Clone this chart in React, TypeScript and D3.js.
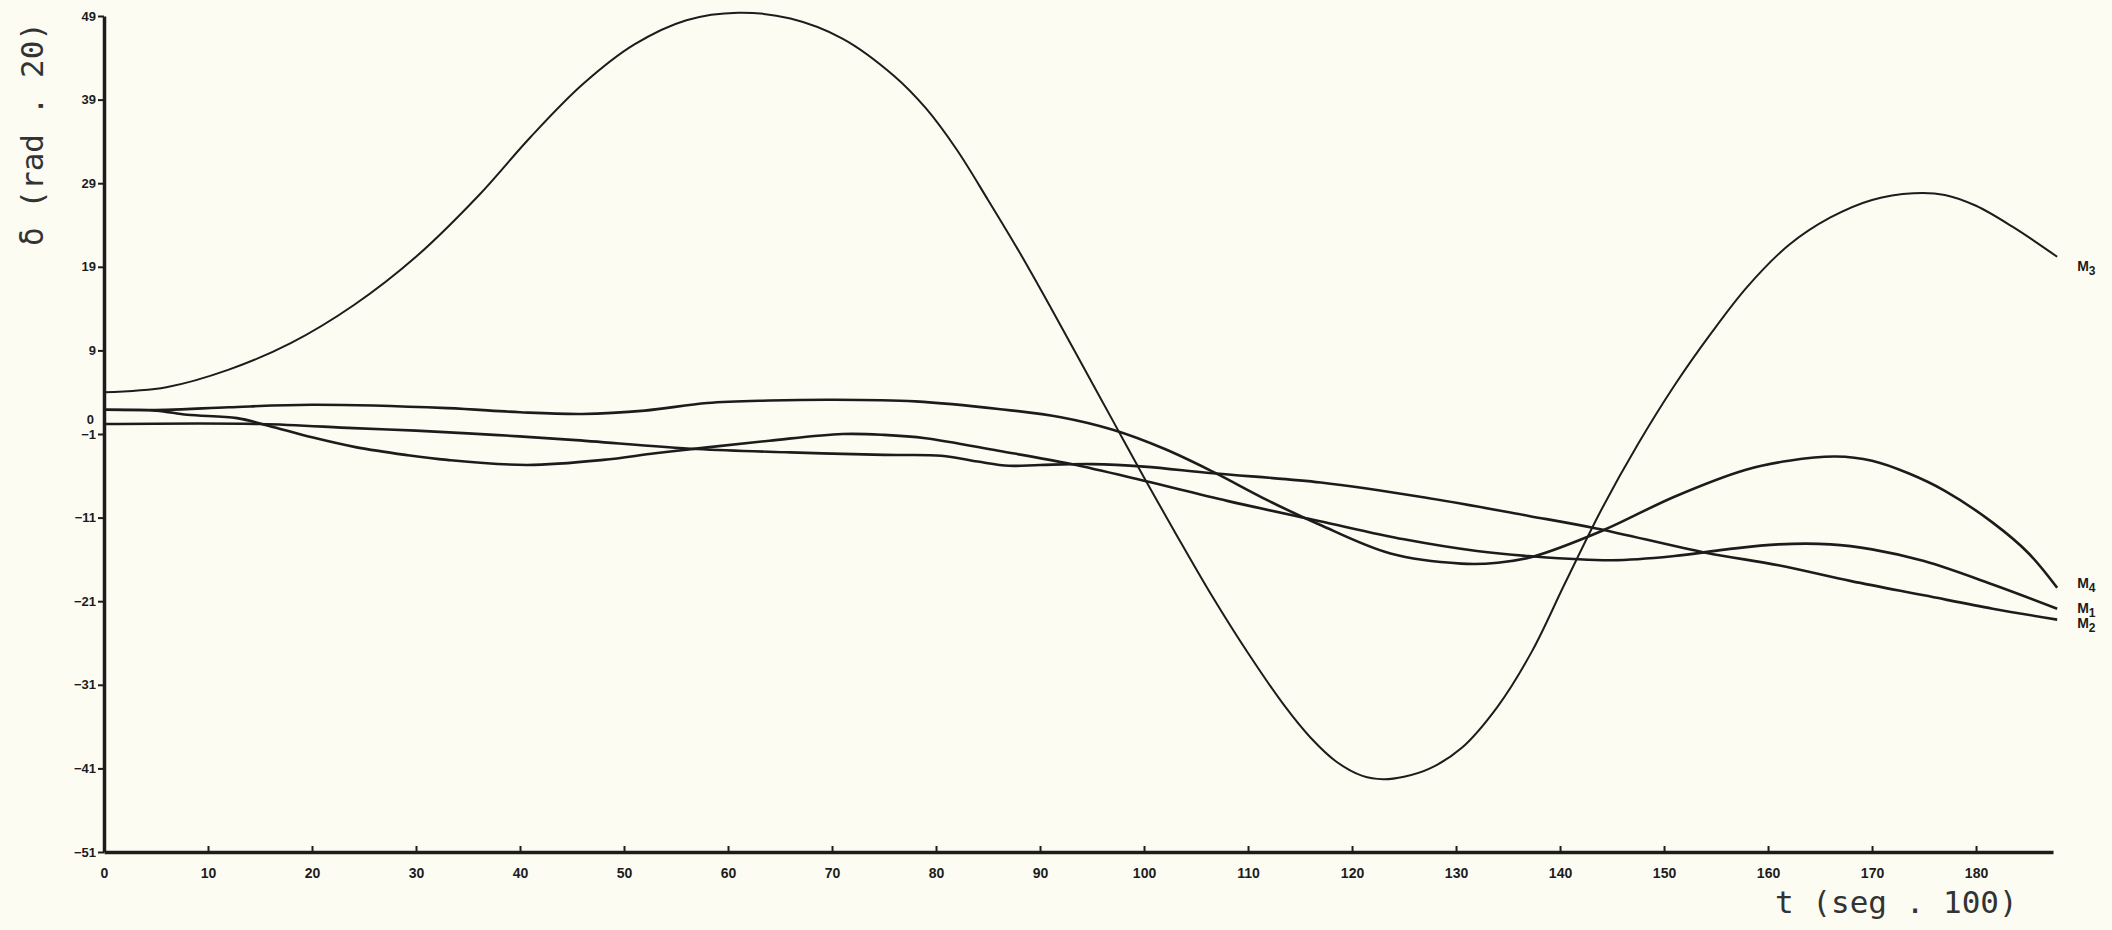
import * as d3 from 'd3';
import { FC, useEffect, useRef } from 'react';

// t (seg . 100) vs delta (rad . 20)
const m3: [number, number][] = [
  [0, 4.0], [6, 4.6], [12, 6.7], [18, 9.9], [24, 14.4], [30, 20.2], [36, 27.5],
  [41, 34.5], [46, 40.8], [51, 45.6], [56, 48.5], [61, 49.4], [66, 48.7],
  [71, 46.3], [76, 41.8], [79, 38], [82, 33], [85, 27], [88, 20.8], [91, 14.2],
  [94, 7.4], [97, 0.6], [100, -6.2], [103, -12.8], [106.6, -20.5], [110, -27.2],
  [113.5, -33.5], [116, -37.3], [118.5, -40.2], [121, -41.9], [123, -42.3],
  [125, -42.0], [127.5, -41.0], [130.5, -38.6], [134, -33.6], [137.3, -27],
  [140.5, -18.8], [144, -10], [147.5, -2.2], [151, 4.8], [154.5, 11],
  [158, 16.6], [162, 21.6], [166, 24.9], [170, 27], [174, 27.8], [177, 27.6],
  [180, 26.3], [183.5, 23.8], [187.8, 20.2],
];

const m4: [number, number][] = [
  [0, 1.9], [6, 1.9], [12, 2.2], [20, 2.5], [33, 2.1], [40, 1.6], [46, 1.4],
  [52, 1.8], [58, 2.7], [64, 3.0], [70, 3.1], [78, 2.9], [86, 2.0], [92, 1.0],
  [97, -0.5], [102, -2.8], [106.6, -5.5], [112, -9], [116.8, -11.8],
  [123.7, -15.3], [130.5, -16.5], [134, -16.4], [137.3, -15.7], [144, -12.6],
  [151, -8.5], [157.8, -5.3], [162, -4.2], [166.5, -3.7], [170, -4.2],
  [173.5, -5.7], [177, -7.8], [181.6, -11.6], [185, -15.2], [187.8, -19.4],
];

const m1: [number, number][] = [
  [0, 1.9], [5, 1.8], [8, 1.3], [12.8, 0.9], [15.8, 0], [20, -1.4],
  [24.3, -2.6], [29, -3.5], [33, -4.1], [40.7, -4.7], [48, -4.1], [53, -3.3],
  [58, -2.6], [64, -1.8], [71, -1.0], [75, -1.1], [79, -1.5], [86, -3.0],
  [93, -4.6], [100, -6.6], [108, -9], [116.8, -11.4], [125, -13.6], [132, -15],
  [137, -15.6], [145, -16.1], [151, -15.6], [156, -14.8], [161, -14.2],
  [166, -14.2], [170, -14.8], [175, -16.2], [181.6, -19], [187.8, -21.9],
];

const m2: [number, number][] = [
  [0, 0.2], [15, 0.2], [24, -0.3], [30, -0.6], [37.5, -1.1], [45, -1.7],
  [57, -2.8], [66, -3.2], [75, -3.5], [80.5, -3.6], [84, -4.3], [87, -4.8],
  [90, -4.7], [95, -4.6], [100, -4.9], [106.6, -5.7], [117, -6.8],
  [127, -8.6], [137, -10.8], [143.5, -12.3], [154, -15.2], [161, -16.7],
  [168, -18.6], [175, -20.3], [181.6, -21.9], [187.8, -23.2],
];

const seriesNames = ['M3', 'M4', 'M1', 'M2'];
const seriesValues = [m3, m4, m1, m2];

const xTicks = d3.range(0, 190, 10);
const yTicks = [49, 39, 29, 19, 9, -1, -11, -21, -31, -41, -51];

const W = 2112;
const H = 930;

const App: FC = () => {
  const ref = useRef<SVGSVGElement>(null);

  useEffect(() => {
    drawChart();
  }, []);

  const drawChart = () => {
    const svg = d3.select(ref.current);
    svg.selectAll('*').remove();

    svg
      .append('rect')
      .attr('width', W)
      .attr('height', H)
      .attr('fill', '#fcfcf3');

    const x = d3.scaleLinear().domain([0, 187.4]).range([104, 2053]);
    const y = d3.scaleLinear().domain([-51, 49]).range([852, 16]);

    const ink = '#1c1c1c';

    // x axis, ticks pointing up into the plot
    const xAxis = svg
      .append('g')
      .attr('transform', `translate(0,${y(-51)})`)
      .call(
        d3
          .axisBottom(x)
          .tickValues(xTicks)
          .tickSizeInner(-6)
          .tickSizeOuter(0)
          .tickPadding(16)
          .tickFormat(d3.format('d'))
      );
    xAxis.select('.domain').style('stroke', ink).style('stroke-width', 3.5);
    xAxis.selectAll('line').style('stroke', ink).style('stroke-width', 2);
    xAxis
      .selectAll('text')
      .style('font-family', 'Liberation Sans, sans-serif')
      .style('font-size', '14px')
      .style('font-weight', 'bold')
      .style('fill', ink);

    const yAxis = svg
      .append('g')
      .attr('transform', `translate(${x(0)},0)`)
      .call(
        d3
          .axisLeft(y)
          .tickValues(yTicks)
          .tickSizeInner(6)
          .tickSizeOuter(0)
          .tickPadding(2)
          .tickFormat(d3.format('d'))
      );
    yAxis.select('.domain').style('stroke', ink).style('stroke-width', 3.5);
    yAxis.selectAll('line').style('stroke', ink).style('stroke-width', 2);
    yAxis
      .selectAll('text')
      .style('font-family', 'Liberation Sans, sans-serif')
      .style('font-size', '13px')
      .style('font-weight', 'bold')
      .style('fill', ink);

    // extra "0" label written next to the -1 tick
    svg
      .append('text')
      .attr('x', x(0) - 10)
      .attr('y', y(0) - 2)
      .attr('text-anchor', 'end')
      .style('font-family', 'Liberation Sans, sans-serif')
      .style('font-size', '13px')
      .style('font-weight', 'bold')
      .style('fill', ink)
      .text('0');

    const line = d3
      .line<[number, number]>()
      .x((d) => x(d[0]))
      .y((d) => y(d[1]))
      .curve(d3.curveCatmullRom.alpha(0.5));

    svg
      .selectAll('.curve')
      .data(seriesValues)
      .enter()
      .append('path')
      .attr('class', 'curve')
      .attr('d', (d) => line(d))
      .attr('fill', 'none')
      .attr('stroke', ink)
      .attr('stroke-width', (d, i) => (i === 0 ? 2 : 2.6));

    // end labels M3, M4, M1, M2
    const labelDy = [10, -4, 0, 4];
    const labels = svg
      .selectAll('.mlabel')
      .data(seriesValues)
      .enter()
      .append('text')
      .attr('class', 'mlabel')
      .attr('x', (d) => x(d[d.length - 1][0]) + 20)
      .attr('y', (d, i) => y(d[d.length - 1][1]) + labelDy[i] + 4)
      .style('font-family', 'Liberation Sans, sans-serif')
      .style('font-size', '14px')
      .style('font-weight', 'bold')
      .style('fill', ink);
    labels.append('tspan').text('M');
    labels
      .append('tspan')
      .attr('dy', 4)
      .style('font-size', '12px')
      .text((d, i) => seriesNames[i].slice(1));

    svg
      .append('text')
      .attr('x', 1775)
      .attr('y', 913)
      .style('font-family', 'DejaVu Sans Mono, monospace')
      .style('font-size', '31px')
      .style('fill', '#333')
      .text('t (seg . 100)');

    svg
      .append('text')
      .attr('transform', 'translate(43,134) rotate(-90)')
      .attr('text-anchor', 'middle')
      .style('font-family', 'DejaVu Sans Mono, monospace')
      .style('font-size', '31px')
      .style('fill', '#333')
      .text('δ (rad . 20)');
  };

  return (
    <svg
      ref={ref}
      width={W}
      height={H}
      style={{ position: 'absolute', left: 0, top: 0, display: 'block' }}
    />
  );
};

export default App;
